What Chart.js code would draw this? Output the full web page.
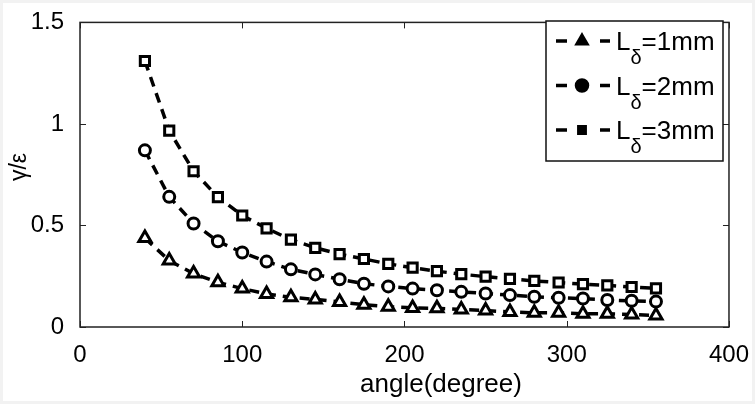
<!DOCTYPE html>
<html>
<head>
<meta charset="utf-8">
<script src="https://cdn.jsdelivr.net/npm/chart.js"></script>
<style>
  html, body { margin: 0; padding: 0; background: #f2f2f2; }
  #wrap { position: absolute; left: 3px; top: 3px; width: 749px; height: 398px; background: #fff; }
  canvas { position: absolute; left: -3px; top: -3px; }
</style>
</head>
<body>
<div id="wrap"><canvas id="c" width="755" height="404"></canvas></div>
<script>
// angles (degree)
const angles = [40, 55, 70, 85, 100, 115, 130, 145, 160, 175, 190, 205, 220, 235, 250, 265, 280, 295, 310, 325, 340, 355];
// gamma/epsilon for each L_delta
const l1mm = [0.438, 0.327, 0.263, 0.22, 0.189, 0.163, 0.146, 0.136, 0.123, 0.11, 0.1, 0.094, 0.092, 0.086, 0.081, 0.074, 0.07, 0.07, 0.065, 0.065, 0.062, 0.057];
const l2mm = [0.87, 0.641, 0.51, 0.422, 0.367, 0.322, 0.284, 0.259, 0.235, 0.213, 0.2, 0.189, 0.181, 0.173, 0.165, 0.157, 0.149, 0.144, 0.14, 0.133, 0.129, 0.125];
const l3mm = [1.31, 0.967, 0.767, 0.64, 0.549, 0.486, 0.43, 0.39, 0.359, 0.335, 0.311, 0.292, 0.275, 0.26, 0.248, 0.237, 0.227, 0.219, 0.211, 0.205, 0.197, 0.19];
const xTicks = [0, 100, 200, 300, 400];
const yTicks = [0, 0.5, 1, 1.5];
const legendLabels = ['1mm', '2mm', '3mm'];
const markers = ['triangle', 'circle', 'rect'];
const xTitle = 'angle(degree)';
const yTitle = 'γ/ε';

const FONT = "'Liberation Sans', Arial, sans-serif";

const toPts = ys => ys.map((y, i) => ({ x: angles[i], y }));
const mk = (data, style, r) => ({
  data: toPts(data),
  borderColor: '#000',
  borderWidth: 3.5,
  borderDash: [10, 7],
  pointStyle: style,
  pointRadius: r,
  pointBorderWidth: 3,
  pointBackgroundColor: '#fff',
  pointBorderColor: '#000',
  fill: false,
  tension: 0
});

// MATLAB-like frame: box + inward ticks on all sides, axis labels, legend with subscripts
const frame = {
  id: 'frame',
  afterDraw(chart) {
    const { ctx, chartArea: a, scales: { x, y } } = chart;
    ctx.save();
    ctx.strokeStyle = '#222';
    ctx.lineWidth = 1.5;
    ctx.strokeRect(a.left, a.top, a.right - a.left, a.bottom - a.top);
    ctx.lineWidth = 1;
    const tl = 6;
    ctx.beginPath();
    xTicks.forEach(v => {
      const px = Math.round(x.getPixelForValue(v)) + 0.5;
      ctx.moveTo(px, a.bottom); ctx.lineTo(px, a.bottom - tl);
      ctx.moveTo(px, a.top); ctx.lineTo(px, a.top + tl);
    });
    yTicks.forEach(v => {
      const py = Math.round(y.getPixelForValue(v)) + 0.5;
      ctx.moveTo(a.left, py); ctx.lineTo(a.left + tl, py);
      ctx.moveTo(a.right, py); ctx.lineTo(a.right - tl, py);
    });
    ctx.stroke();

    // axis titles (placed like the original export)
    ctx.fillStyle = '#000';
    ctx.textAlign = 'center';
    ctx.textBaseline = 'alphabetic';
    ctx.font = '26px ' + FONT;
    ctx.fillText(xTitle, 441, 392);
    ctx.save();
    ctx.translate(26, 167);
    ctx.rotate(-Math.PI / 2);
    ctx.font = '23px ' + FONT;
    ctx.fillText(yTitle, 0, 0);
    ctx.restore();

    // legend
    const bx = 546, by = 21, bw = 177, bh = 140;
    ctx.fillStyle = '#fff';
    ctx.fillRect(bx, by, bw, bh);
    ctx.strokeStyle = '#111';
    ctx.lineWidth = 1.5;
    ctx.strokeRect(bx, by, bw, bh);
    chart.data.datasets.forEach((ds, i) => {
      const base = 50 + i * 44.5;
      const cy = base - 9;
      ctx.strokeStyle = '#000';
      ctx.lineWidth = 3.5;
      ctx.setLineDash([]);
      ctx.beginPath();
      ctx.moveTo(556, cy); ctx.lineTo(567, cy);
      ctx.moveTo(600, cy); ctx.lineTo(610, cy);
      ctx.stroke();
      ctx.fillStyle = '#000';
      Chart.helpers.drawPoint(ctx, {
        pointStyle: markers[i], radius: i === 2 ? 4.5 : 5.5, borderWidth: 3, rotation: 0
      }, 582, cy);
      ctx.textBaseline = 'alphabetic';
      ctx.textAlign = 'left';
      ctx.font = '26px ' + FONT;
      ctx.fillText('L', 616, base);
      const w = ctx.measureText('L').width;
      ctx.font = '20px ' + FONT;
      ctx.fillText('δ', 616 + w, base + 14);
      const w2 = ctx.measureText('δ').width;
      ctx.font = '26px ' + FONT;
      ctx.fillText('=' + legendLabels[i], 616 + w + w2, base);
    });
    ctx.restore();
  }
};

new Chart(document.getElementById('c'), {
  type: 'line',
  data: {
    datasets: [mk(l1mm, 'triangle', 7), mk(l2mm, 'circle', 5.5), mk(l3mm, 'rect', 6.5)]
  },
  plugins: [frame],
  options: {
    responsive: false,
    animation: false,
    layout: { padding: { top: 12, right: 23, left: 0, bottom: 0 } },
    plugins: { legend: { display: false }, tooltip: { enabled: false } },
    scales: {
      x: {
        type: 'linear', min: 0, max: 400,
        afterFit: s => { s.height = 77; },
        afterBuildTicks: s => { s.ticks = xTicks.map(v => ({ value: v })); },
        grid: { display: false },
        border: { display: false },
        ticks: { color: '#000', font: { family: FONT, size: 24 }, padding: 6, maxRotation: 0 }
      },
      y: {
        type: 'linear', min: 0, max: 1.5,
        afterFit: s => { s.width = 80; },
        afterBuildTicks: s => { s.ticks = yTicks.map(v => ({ value: v })); },
        grid: { display: false },
        border: { display: false },
        ticks: { color: '#000', font: { family: FONT, size: 24 }, padding: 8, callback: v => String(v) }
      }
    }
  }
});
</script>
</body>
</html>
